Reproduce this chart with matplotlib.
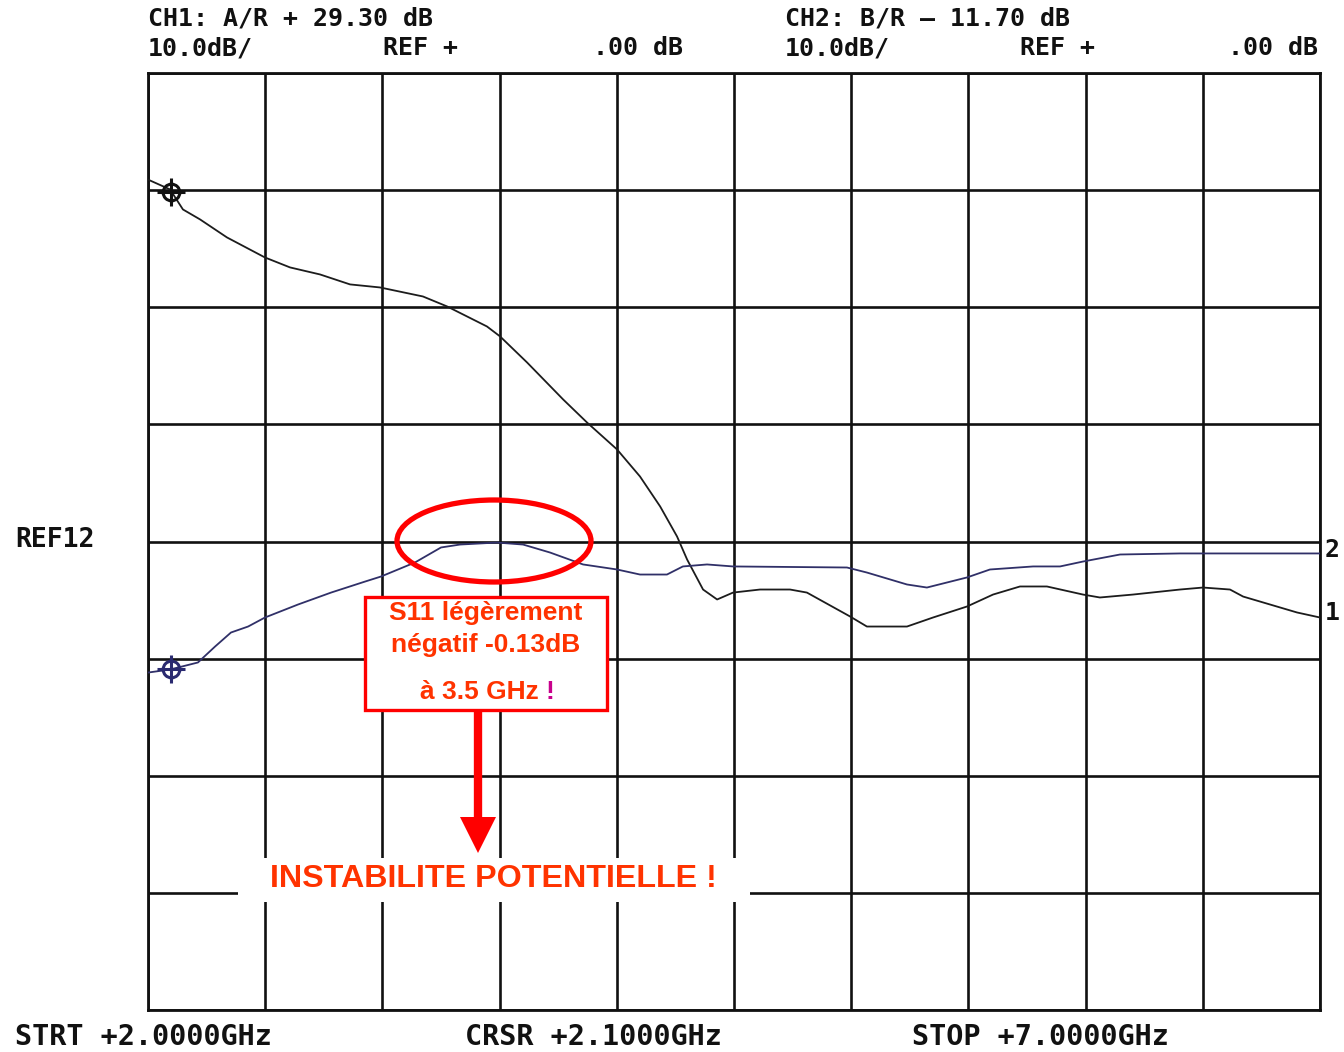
import numpy as np
import matplotlib
matplotlib.use("Agg")
import matplotlib.pyplot as plt
from matplotlib.patches import Ellipse, Rectangle, Polygon
from matplotlib.lines import Line2D

# ---------------- data (frequency in GHz, level in dB) ----------------
ch1_freq = [2.00, 2.094, 2.149, 2.222, 2.337, 2.499, 2.606, 2.734, 2.862, 2.990,
            3.173, 3.276, 3.446, 3.502, 3.617, 3.771, 3.873, 4.001, 4.099, 4.185,
            4.257, 4.300, 4.368, 4.428, 4.496, 4.611, 4.739, 4.811, 4.995, 5.067,
            5.238, 5.349, 5.494, 5.605, 5.720, 5.835, 5.989, 6.061, 6.202, 6.403,
            6.501, 6.616, 6.672, 6.787, 6.902, 7.000]
ch1_db = [30.9, 30.06, 28.35, 27.5, 25.96, 24.25, 23.4, 22.8, 21.95, 21.69,
          20.92, 20.07, 18.36, 17.51, 15.29, 12.13, 10.16, 7.86, 5.55, 2.99,
          0.43, -1.54, -4.10, -4.95, -4.36, -4.10, -4.10, -4.36, -6.40, -7.26,
          -7.26, -6.49, -5.55, -4.53, -3.84, -3.84, -4.53, -4.78, -4.53, -4.10,
          -3.93, -4.10, -4.70, -5.38, -6.06, -6.49]

ch2_freq = [2.00, 2.094, 2.213, 2.286, 2.354, 2.427, 2.499, 2.640, 2.781, 2.926,
            2.994, 3.139, 3.250, 3.331, 3.489, 3.600, 3.715, 3.856, 4.001, 4.099,
            4.214, 4.282, 4.385, 4.496, 4.982, 5.067, 5.238, 5.323, 5.494, 5.592,
            5.776, 5.891, 5.989, 6.147, 6.403, 7.000]
ch2_db = [-11.19, -10.93, -10.33, -8.97, -7.77, -7.26, -6.49, -5.38, -4.36, -3.42,
          -2.99, -1.79, -0.51, -0.26, -0.09, -0.26, -0.94, -1.96, -2.39, -2.82,
          -2.82, -2.13, -1.96, -2.13, -2.22, -2.65, -3.67, -3.93, -3.07, -2.39,
          -2.13, -2.13, -1.71, -1.11, -1.02, -1.02]

f_start, f_stop, f_cursor = 2.0, 7.0, 2.1
ref_db, db_per_div, n_ydiv, n_xdiv = 0.0, 10.0, 8, 10

header_ch1 = "CH1: A/R + 29.30 dB"
header_ch2 = "CH2: B/R \u2013 11.70 dB"
scale_txt = "10.0dB/"
ref_txt = "REF +"
ref_val = ".00 dB"
footer = ["STRT +2.0000GHz", "CRSR +2.1000GHz", "STOP +7.0000GHz"]
note_lines = ["S11 légèrement", "négatif -0.13dB", "à 3.5 GHz"]
warning = "INSTABILITE POTENTIELLE !"

# ---------------- figure ----------------
W, H = 1344, 1052
fig = plt.figure(figsize=(W / 100, H / 100), dpi=100)
fig.patch.set_facecolor("white")

def fx(x):
    return x / W

def fy(y):
    return 1 - y / H

ax = fig.add_axes([fx(148), fy(1010), (1320 - 148) / W, (1010 - 73) / H])
ax.set_xlim(f_start, f_stop)
ax.set_ylim(ref_db - db_per_div * n_ydiv / 2, ref_db + db_per_div * n_ydiv / 2)
ax.set_xticks(np.linspace(f_start, f_stop, n_xdiv + 1))
ax.set_yticks(np.linspace(ref_db - 40, ref_db + 40, n_ydiv + 1))
ax.tick_params(length=0, labelbottom=False, labelleft=False)
ax.grid(True, color="#111111", linewidth=1.9)
for s in ax.spines.values():
    s.set_color("#111111")
    s.set_linewidth(2.0)

ax.plot(ch1_freq, ch1_db, color="#1c1c1c", lw=1.3, zorder=3)
ax.plot(ch2_freq, ch2_db, color="#303068", lw=1.3, zorder=3)

# cursor markers at 2.1 GHz
for fr, db, col in [(ch1_freq, ch1_db, "#111111"), (ch2_freq, ch2_db, "#2a2a70")]:
    yv = np.interp(f_cursor, fr, db)
    ax.plot([f_cursor], [yv], marker="o", ms=12, mfc="none", mec=col, mew=2.2, zorder=4)
    ax.plot([f_cursor], [yv], marker="+", ms=20, mec=col, mew=2.2, zorder=4)

# ---------------- instrument texts ----------------
mono = dict(family="DejaVu Sans Mono", weight="bold", color="#111111")
fs = 18
fig.text(fx(148), fy(18), header_ch1, fontsize=fs, va="center", ha="left", **mono)
fig.text(fx(148), fy(48), scale_txt, fontsize=fs, va="center", ha="left", **mono)
fig.text(fx(383), fy(48), ref_txt, fontsize=fs, va="center", ha="left", **mono)
fig.text(fx(683), fy(48), ref_val, fontsize=fs, va="center", ha="right", **mono)
fig.text(fx(785), fy(18), header_ch2, fontsize=fs, va="center", ha="left", **mono)
fig.text(fx(785), fy(48), scale_txt, fontsize=fs, va="center", ha="left", **mono)
fig.text(fx(1020), fy(48), ref_txt, fontsize=fs, va="center", ha="left", **mono)
fig.text(fx(1318), fy(48), ref_val, fontsize=fs, va="center", ha="right", **mono)
fig.text(fx(15), fy(540), "REF12", fontsize=19, va="center", ha="left", **mono)
fig.text(fx(1325), fy(550), "2", fontsize=fs, va="center", ha="left", **mono)
fig.text(fx(1325), fy(613), "1", fontsize=fs, va="center", ha="left", **mono)
for xpos, t in zip([15, 465, 912], footer):
    fig.text(fx(xpos), fy(1037), t, fontsize=20.5, va="center", ha="left", **mono)

# ---------------- red annotations ----------------
red = "#ff0000"
txt_red = "#ff3300"
arial = dict(family="Liberation Sans", weight="bold")

fig.add_artist(Ellipse((fx(494), fy(541)), 194 / W, 82 / H, transform=fig.transFigure,
                       fill=False, edgecolor=red, linewidth=3.8, zorder=5))

fig.add_artist(Rectangle((fx(365), fy(710)), (607 - 365) / W, (710 - 597) / H,
                         transform=fig.transFigure, facecolor="white",
                         edgecolor=red, linewidth=2.4, zorder=5))
fig.text(fx(486), fy(613), note_lines[0], fontsize=19, color=txt_red, ha="center",
         va="center", zorder=6, **arial)
fig.text(fx(486), fy(645), note_lines[1], fontsize=19, color=txt_red, ha="center",
         va="center", zorder=6, **arial)
fig.text(fx(539), fy(692), note_lines[2], fontsize=19, color=txt_red, ha="right",
         va="center", zorder=6, **arial)
fig.text(fx(546), fy(692), "!", fontsize=19, color="#c8008c", ha="left",
         va="center", zorder=6, **arial)

# arrow
fig.add_artist(Line2D([fx(478), fx(478)], [fy(710), fy(820)], transform=fig.transFigure,
                      color=red, linewidth=6, solid_capstyle="butt", zorder=5))
fig.add_artist(Polygon([(fx(460), fy(817)), (fx(496), fy(817)), (fx(478), fy(853))],
                       closed=True, transform=fig.transFigure, facecolor=red,
                       edgecolor="none", zorder=5))

# warning
fig.add_artist(Rectangle((fx(238), fy(902)), (750 - 238) / W, (902 - 858) / H,
                         transform=fig.transFigure, facecolor="white",
                         edgecolor="none", zorder=5))
fig.text(fx(493), fy(879), warning, fontsize=23.2, color=txt_red, ha="center",
         va="center", zorder=6, **arial)

fig.savefig("out.png", dpi=100, facecolor="white")
